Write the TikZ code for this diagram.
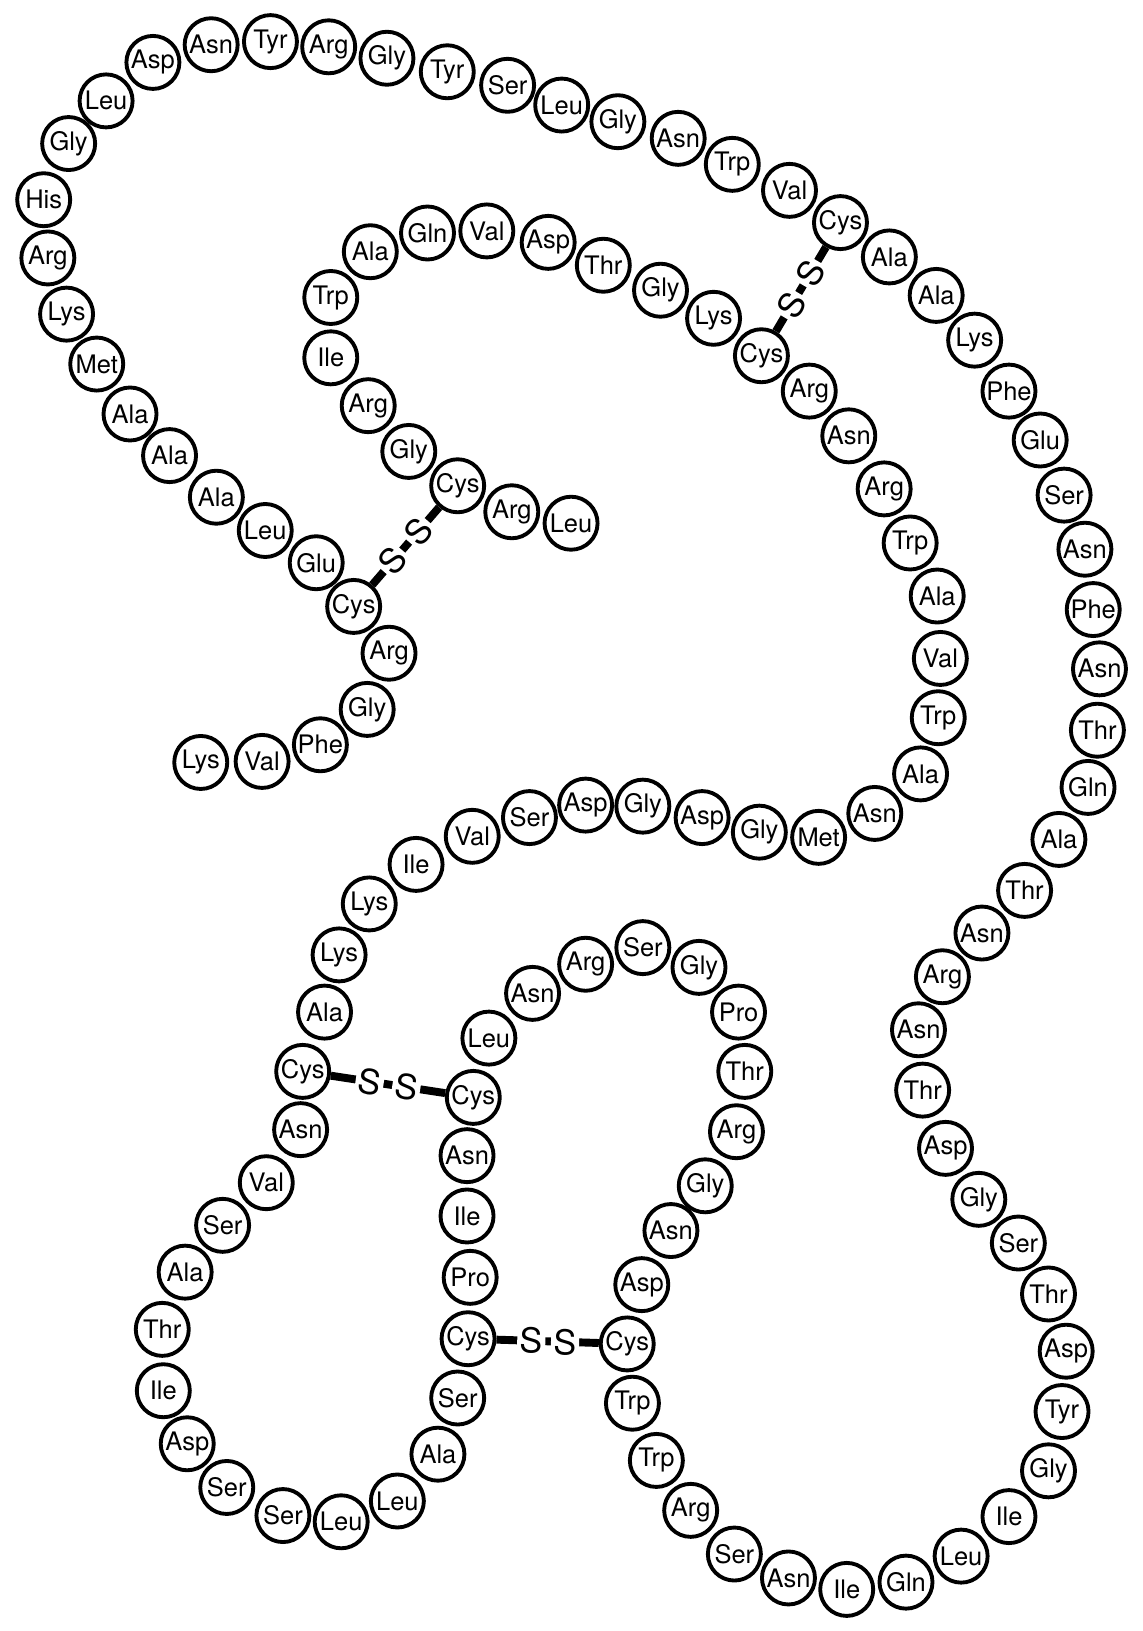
\documentclass[tikz,border=0pt]{standalone}
\usepackage{fontspec}
\setmainfont{TeX Gyre Heros}
\usepackage{tikz}

\begin{document}
\begin{tikzpicture}[x=0.0208cm,y=-0.0208cm,
	main node/.style={circle,draw,line width=2.2pt,minimum size=1.06cm,inner sep=0pt,
		font=\fontsize{14.5}{15}\selectfont},
	bond/.style={line width=4.5pt}]
	\useasboundingbox (0,0) rectangle (1098,1568);

	\node[main node] (1) at (193,733) {Lys};
	\node[main node] (2) at (252,732) {Val};
	\node[main node] (3) at (308,716) {Phe};
	\node[main node] (4) at (353,682) {Gly};
	\node[main node] (5) at (374,628) {Arg};
	\node[main node] (6) at (340,583) {Cys};
	\node[main node] (7) at (304,541) {Glu};
	\node[main node] (8) at (255,510) {Leu};
	\node[main node] (9) at (208,478) {Ala};
	\node[main node] (10) at (163,438) {Ala};
	\node[main node] (11) at (125,398) {Ala};
	\node[main node] (12) at (93,350) {Met};
	\node[main node] (13) at (64,302) {Lys};
	\node[main node] (14) at (46,248) {Arg};
	\node[main node] (15) at (42,192) {His};
	\node[main node] (16) at (66,138) {Gly};
	\node[main node] (17) at (102,97) {Leu};
	\node[main node] (18) at (147,60) {Asp};
	\node[main node] (19) at (203,43) {Asn};
	\node[main node] (20) at (260,40) {Tyr};
	\node[main node] (21) at (316,45) {Arg};
	\node[main node] (22) at (372,56) {Gly};
	\node[main node] (23) at (430,69) {Tyr};
	\node[main node] (24) at (488,82) {Ser};
	\node[main node] (25) at (540,101) {Leu};
	\node[main node] (26) at (594,117) {Gly};
	\node[main node] (27) at (652,133) {Asn};
	\node[main node] (28) at (704,158) {Trp};
	\node[main node] (29) at (759,183) {Val};
	\node[main node] (30) at (808,214) {Cys};
	\node[main node] (31) at (855,247) {Ala};
	\node[main node] (32) at (900,284) {Ala};
	\node[main node] (33) at (937,327) {Lys};
	\node[main node] (34) at (970,376) {Phe};
	\node[main node] (35) at (1000,423) {Glu};
	\node[main node] (36) at (1023,476) {Ser};
	\node[main node] (37) at (1043,528) {Asn};
	\node[main node] (38) at (1051,586) {Phe};
	\node[main node] (39) at (1057,643) {Asn};
	\node[main node] (40) at (1055,702) {Thr};
	\node[main node] (41) at (1046,757) {Gln};
	\node[main node] (42) at (1018,807) {Ala};
	\node[main node] (43) at (985,856) {Thr};
	\node[main node] (44) at (944,897) {Asn};
	\node[main node] (45) at (906,939) {Arg};
	\node[main node] (46) at (883,990) {Asn};
	\node[main node] (47) at (887,1048) {Thr};
	\node[main node] (48) at (909,1104) {Asp};
	\node[main node] (49) at (941,1153) {Gly};
	\node[main node] (50) at (979,1195) {Ser};
	\node[main node] (51) at (1008,1244) {Thr};
	\node[main node] (52) at (1025,1299) {Asp};
	\node[main node] (53) at (1021,1357) {Tyr};
	\node[main node] (54) at (1008,1414) {Gly};
	\node[main node] (55) at (970,1458) {Ile};
	\node[main node] (56) at (924,1496) {Leu};
	\node[main node] (57) at (871,1521) {Gln};
	\node[main node] (58) at (814,1528) {Ile};
	\node[main node] (59) at (758,1517) {Asn};
	\node[main node] (60) at (706,1494) {Ser};
	\node[main node] (61) at (664,1452) {Arg};
	\node[main node] (62) at (631,1404) {Trp};
	\node[main node] (63) at (608,1349) {Trp};
	\node[main node] (64) at (603,1292) {Cys};
	\node[main node] (65) at (617,1235) {Asp};
	\node[main node] (66) at (645,1183) {Asn};
	\node[main node] (67) at (678,1140) {Gly};
	\node[main node] (68) at (708,1088) {Arg};
	\node[main node] (69) at (716,1030) {Thr};
	\node[main node] (70) at (710,973) {Pro};
	\node[main node] (71) at (672,930) {Gly};
	\node[main node] (72) at (618,911) {Ser};
	\node[main node] (73) at (563,927) {Arg};
	\node[main node] (74) at (512,955) {Asn};
	\node[main node] (75) at (470,998) {Leu};
	\node[main node] (76) at (455,1055) {Cys};
	\node[main node] (77) at (449,1111) {Asn};
	\node[main node] (78) at (449,1169) {Ile};
	\node[main node] (79) at (452,1228) {Pro};
	\node[main node] (80) at (450,1287) {Cys};
	\node[main node] (81) at (440,1344) {Ser};
	\node[main node] (82) at (421,1398) {Ala};
	\node[main node] (83) at (382,1443) {Leu};
	\node[main node] (84) at (328,1463) {Leu};
	\node[main node] (85) at (272,1457) {Ser};
	\node[main node] (86) at (218,1430) {Ser};
	\node[main node] (87) at (180,1388) {Asp};
	\node[main node] (88) at (157,1337) {Ile};
	\node[main node] (89) at (156,1278) {Thr};
	\node[main node] (90) at (178,1223) {Ala};
	\node[main node] (91) at (214,1178) {Ser};
	\node[main node] (92) at (256,1137) {Val};
	\node[main node] (93) at (289,1086) {Asn};
	\node[main node] (94) at (291,1030) {Cys};
	\node[main node] (95) at (312,973) {Ala};
	\node[main node] (96) at (326,918) {Lys};
	\node[main node] (97) at (355,869) {Lys};
	\node[main node] (98) at (400,831) {Ile};
	\node[main node] (99) at (454,804) {Val};
	\node[main node] (100) at (509,786) {Ser};
	\node[main node] (101) at (563,774) {Asp};
	\node[main node] (102) at (618,775) {Gly};
	\node[main node] (103) at (675,786) {Asp};
	\node[main node] (104) at (730,800) {Gly};
	\node[main node] (105) at (787,805) {Met};
	\node[main node] (106) at (841,782) {Asn};
	\node[main node] (107) at (885,744) {Ala};
	\node[main node] (108) at (902,690) {Trp};
	\node[main node] (109) at (904,633) {Val};
	\node[main node] (110) at (901,573) {Ala};
	\node[main node] (111) at (875,522) {Trp};
	\node[main node] (112) at (850,470) {Arg};
	\node[main node] (113) at (816,419) {Asn};
	\node[main node] (114) at (778,376) {Arg};
	\node[main node] (115) at (732,342) {Cys};
	\node[main node] (116) at (686,306) {Lys};
	\node[main node] (117) at (635,279) {Gly};
	\node[main node] (118) at (580,255) {Thr};
	\node[main node] (119) at (527,233) {Asp};
	\node[main node] (120) at (468,222) {Val};
	\node[main node] (121) at (411,224) {Gln};
	\node[main node] (122) at (356,242) {Ala};
	\node[main node] (123) at (318,286) {Trp};
	\node[main node] (124) at (318,344) {Ile};
	\node[main node] (125) at (354,390) {Arg};
	\node[main node] (126) at (393,434) {Gly};
	\node[main node] (127) at (440,467) {Cys};
	\node[main node] (128) at (492,492) {Arg};
	\node[main node] (129) at (549,503) {Leu};

	% disulfide bridges
	\path[bond,every node/.style={font=\fontsize{19.5}{20}\selectfont,fill=white,
		inner xsep=1.5pt,inner ysep=0pt,sloped}]
	(6) edge node[pos=.31] {S} node[pos=.69] {S} (127)
	(115) edge node[pos=.31] {S} node[pos=.69] {S} (30)
	(94) edge node[pos=.34] {S} node[pos=.66] {S} (76)
	(80) edge node[pos=.34] {S} node[pos=.67] {S} (64);
\end{tikzpicture}
\end{document}
